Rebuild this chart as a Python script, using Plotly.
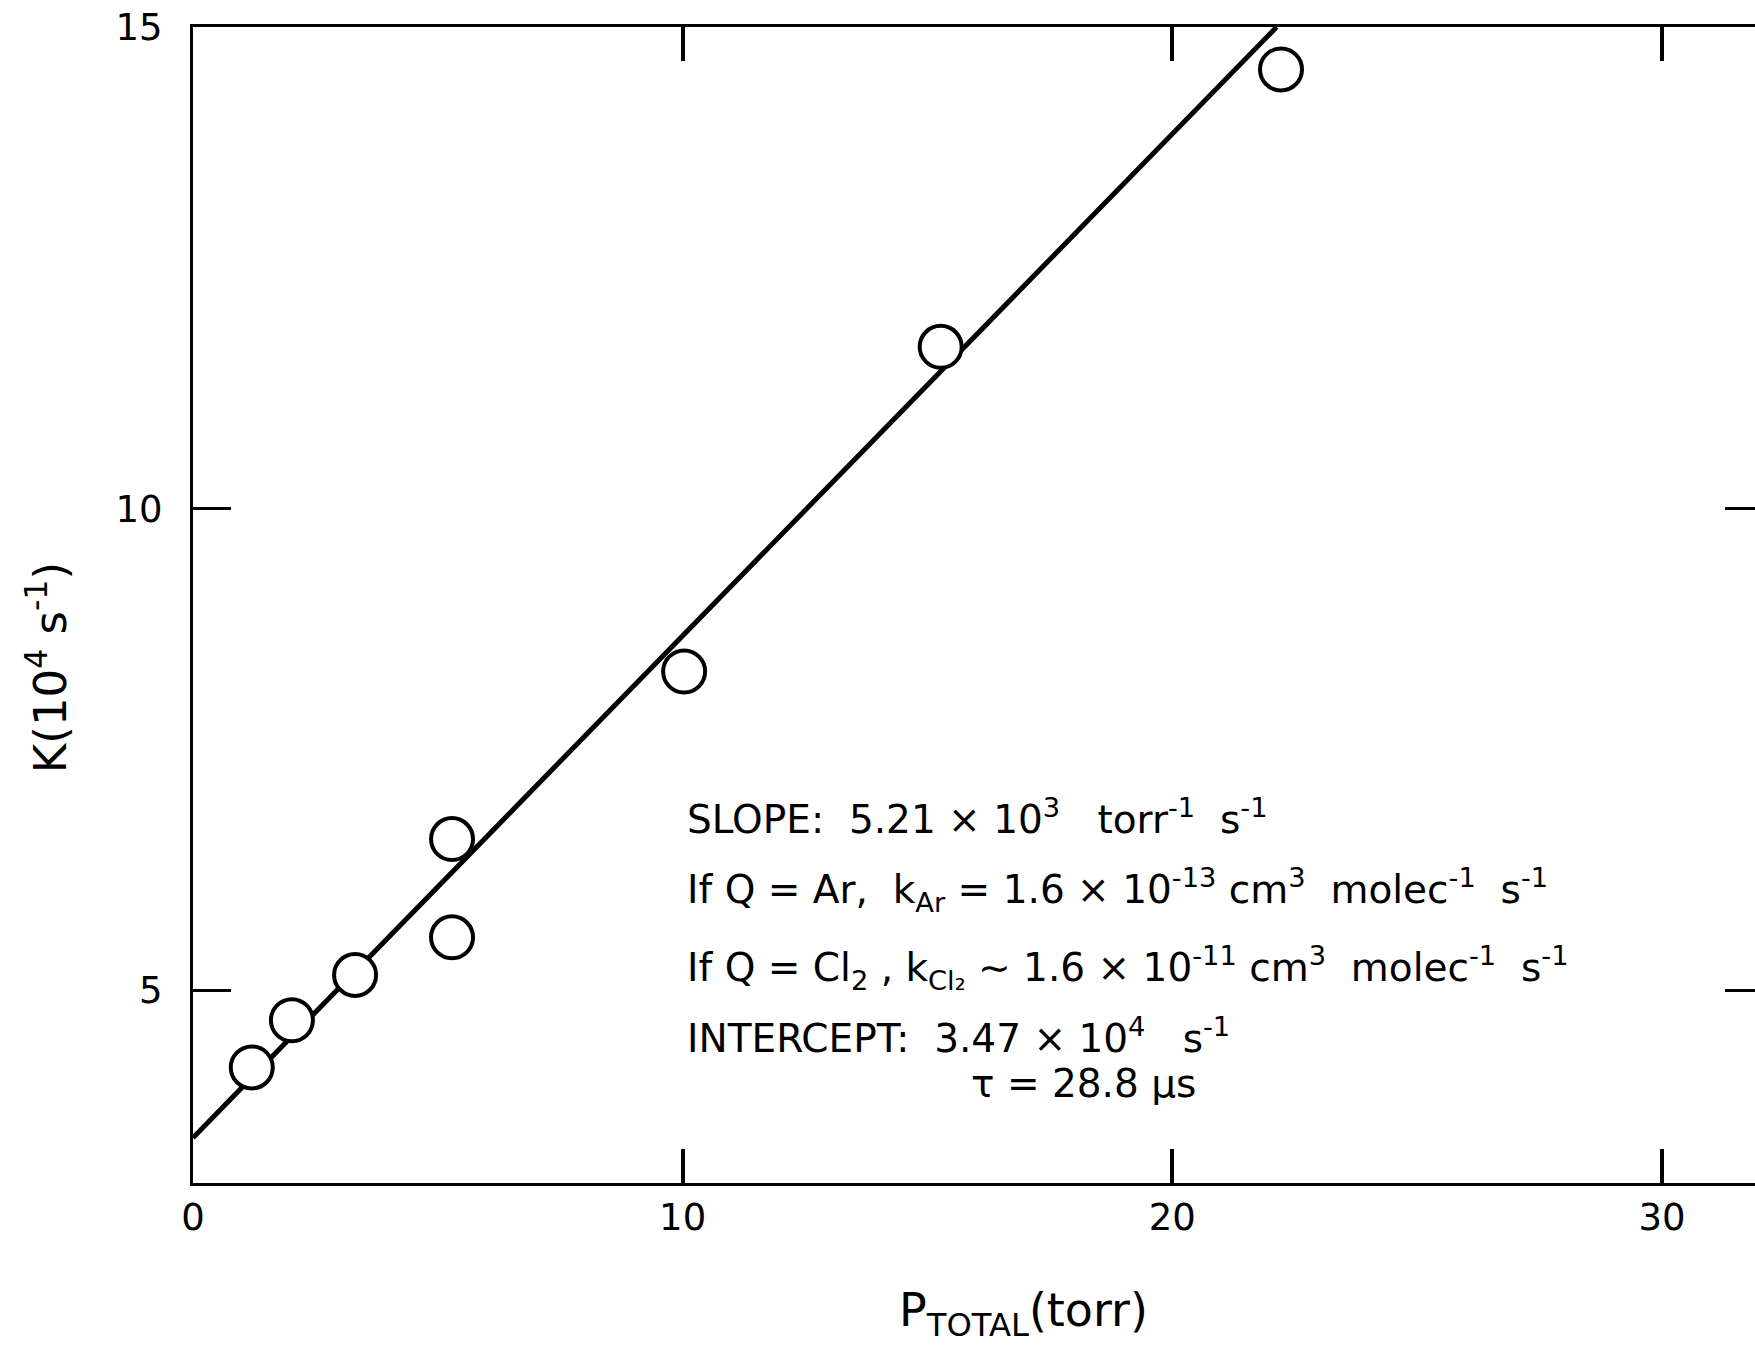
import plotly.graph_objects as go

# Data
p_total = [1.20, 2.02, 3.31, 5.29, 5.29, 10.03, 15.27, 22.22]          # torr
k_rate = [4.20, 4.69, 5.16, 6.57, 5.55, 8.31, 11.68, 14.56]             # 10^4 s^-1

# Fit parameters (from the annotation on the chart)
fit_slope = 0.521      # 10^4 s^-1 per torr
fit_intercept = 3.47   # 10^4 s^-1
y_max = 15.0
fit_x = [0.0, (y_max - fit_intercept) / fit_slope]
fit_y = [fit_intercept + fit_slope * x for x in fit_x]

x_ticks = [0, 10, 20, 30]
y_ticks = [5, 10, 15]

FONT = "DejaVu Sans"

fig = go.Figure()
fig.add_trace(go.Scatter(x=fit_x, y=fit_y, mode="lines",
                         line=dict(color="black", width=5), showlegend=False,
                         hoverinfo="skip"))
fig.add_trace(go.Scatter(x=p_total, y=k_rate, mode="markers",
                         marker=dict(symbol="circle", size=42, color="white",
                                     line=dict(color="black", width=4)),
                         showlegend=False))
# dummy trace to keep right tick axis alive
fig.add_trace(go.Scatter(x=[None], y=[None], yaxis="y2", showlegend=False))

fig.update_layout(
    width=1755, height=1353,
    margin=dict(l=193, r=0, t=27, b=170),
    paper_bgcolor="white", plot_bgcolor="white",
    font=dict(family=FONT, color="black"),
    xaxis=dict(range=[0, 31.9], tickvals=x_ticks, ticktext=[str(v) for v in x_ticks],
               showline=True, linecolor="black", linewidth=3, mirror="ticks",
               ticks="inside", ticklen=34, tickwidth=4, tickcolor="black",
               showgrid=False, zeroline=False,
               tickfont=dict(size=37, family=FONT), ticklabelstandoff=0),
    yaxis=dict(range=[3, 15], tickvals=y_ticks, ticktext=[str(v) for v in y_ticks],
               showline=True, linecolor="black", linewidth=3, mirror=False,
               ticks="inside", ticklen=38, tickwidth=3, tickcolor="black",
               showgrid=False, zeroline=False,
               tickfont=dict(size=37, family=FONT), ticklabelstandoff=20),
    yaxis2=dict(range=[3, 15], overlaying="y", side="right", tickvals=[5, 10],
                showline=False, ticks="inside", ticklen=30, tickwidth=3,
                tickcolor="black", showticklabels=False, showgrid=False,
                zeroline=False),
)

ann_font = dict(family=FONT, size=39, color="black")
lines = [
    (10.05, 6.80, "SLOPE:  5.21 × 10<sup>3</sup>   torr<sup>-1</sup>  s<sup>-1</sup>"),
    (10.05, 6.04, "If Q = Ar,  k<sub>Ar</sub> = 1.6 × 10<sup>-13</sup> cm<sup>3</sup>  molec<sup>-1</sup>  s<sup>-1</sup>"),
    (10.05, 5.23, "If Q = Cl<sub>2</sub> , k<sub>Cl₂</sub> ∼ 1.6 × 10<sup>-11</sup> cm<sup>3</sup>  molec<sup>-1</sup>  s<sup>-1</sup>"),
    (10.05, 4.53, "INTERCEPT:  3.47 × 10<sup>4</sup>   s<sup>-1</sup>"),
    (15.85, 4.03, "τ = 28.8 μs"),
]
for x, y, t in lines:
    fig.add_annotation(x=x, y=y, xref="x", yref="y", text=t, showarrow=False,
                       xanchor="left", yanchor="middle", font=ann_font)

# axis titles
fig.add_annotation(x=-0.093, y=0.446, xref="paper", yref="paper",
                   text="K(10<sup>4</sup> s<sup>-1</sup>)", textangle=-90,
                   showarrow=False, xanchor="center", yanchor="middle",
                   font=dict(family=FONT, size=45, color="black"))
fig.add_annotation(x=0.532, y=-0.113, xref="paper", yref="paper",
                   text="P<sub>TOTAL</sub>(torr)",
                   showarrow=False, xanchor="center", yanchor="middle",
                   font=dict(family=FONT, size=46, color="black"))

fig.write_html("out.html")
